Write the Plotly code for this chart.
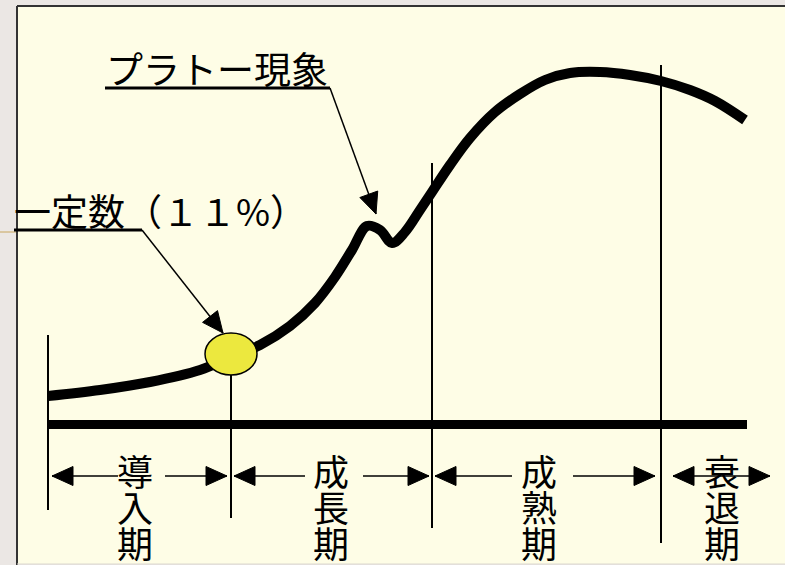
import plotly.graph_objects as go

W, H = 785, 565
FONT = "Noto Sans CJK JP"

# ---- data (diagram units; y grows downward) ----
curve_x = [48, 100, 150, 200, 231, 260, 290, 315, 335, 352, 367, 380, 392, 405, 420, 432,
           450, 470, 495, 520, 545, 570, 600, 630, 661, 690, 715, 745]
curve_y = [396, 390, 382, 370, 357, 345, 326, 303, 277, 250, 226, 230, 243, 232, 210, 192,
           165, 138, 112, 94, 80, 73, 72, 75, 81, 90, 101, 120]

boundary_x = [48, 231, 432, 661]
boundary_top = [335, 375, 163, 65]
boundary_bottom = [510, 518, 528, 543]

baseline_x = [48, 747]
baseline_y = 424.5

period_names = ["導入期", "成長期", "成熟期", "衰退期"]
period_center_x = [135, 331, 539, 722]
period_char_y = [470, 506, 542]
arrow_y = 476
arrow_left_tip = [52, 234, 435, 673]
arrow_right_tip = [227, 429, 655, 770]
arrow_gap = [(118, 165), (305, 363), (512, 573), None]

marker_center = (231, 354)
marker_radius = (26, 21)

plateau_label = "プラトー現象"
plateau_text_pos = (104, 68)
plateau_underline = (105, 330, 88)
plateau_tip = (376, 214)

threshold_label = "一定数（１１%）"
threshold_text_pos = (12, 210)
threshold_underline = (14, 142, 230)
threshold_tip = (223, 333)

HEAD_LEN, HEAD_HALF = 21, 9.5

fig = go.Figure()

fig.add_trace(go.Scatter(
    x=curve_x, y=curve_y, mode="lines",
    line=dict(color="black", width=10, shape="spline", smoothing=1.0),
    hoverinfo="skip", showlegend=False))

shapes = []
# panel
shapes.append(dict(type="rect", xref="x", yref="y", x0=17, x1=800, y0=6, y1=564,
                   fillcolor="#fefde6", line=dict(width=0), layer="below"))
shapes.append(dict(type="line", xref="x", yref="y", x0=17, x1=800, y0=6, y1=6,
                   line=dict(color="#333333", width=2), layer="below"))
shapes.append(dict(type="line", xref="x", yref="y", x0=17, x1=17, y0=6, y1=566,
                   line=dict(color="#333333", width=2), layer="below"))
shapes.append(dict(type="line", xref="x", yref="y", x0=17, x1=800, y0=564, y1=564,
                   line=dict(color="#dcd8d0", width=1), layer="below"))
shapes.append(dict(type="line", xref="x", yref="y", x0=0, x1=16, y0=232, y1=232,
                   line=dict(color="#c8a65c", width=1), layer="below"))

# baseline
shapes.append(dict(type="line", xref="x", yref="y", x0=baseline_x[0], x1=baseline_x[1],
                   y0=baseline_y, y1=baseline_y, line=dict(color="black", width=9)))

# boundaries
for bx, bt, bb in zip(boundary_x, boundary_top, boundary_bottom):
    shapes.append(dict(type="line", xref="x", yref="y", x0=bx, x1=bx, y0=bt, y1=bb,
                       line=dict(color="black", width=2)))


def head(tip, frm):
    tx, ty = tip
    fx, fy = frm
    dx, dy = tx - fx, ty - fy
    n = (dx * dx + dy * dy) ** 0.5
    ux, uy = dx / n, dy / n
    bx, by = tx - ux * HEAD_LEN, ty - uy * HEAD_LEN
    px, py = -uy * HEAD_HALF, ux * HEAD_HALF
    return dict(type="path", xref="x", yref="y",
                path=f"M{tx},{ty} L{bx + px},{by + py} L{bx - px},{by - py} Z",
                fillcolor="black", line=dict(color="black", width=1))


# period arrows
for lt, rt, gap in zip(arrow_left_tip, arrow_right_tip, arrow_gap):
    if gap is None:
        segs = [(lt, rt)]
    else:
        segs = [(lt, gap[0]), (gap[1], rt)]
    for a, b in segs:
        shapes.append(dict(type="line", xref="x", yref="y", x0=a, x1=b, y0=arrow_y, y1=arrow_y,
                           line=dict(color="black", width=1.5)))
    shapes.append(head((lt, arrow_y), (lt + 10, arrow_y)))
    shapes.append(head((rt, arrow_y), (rt - 10, arrow_y)))

# callouts
for (x0, x1, uy), tip in [(plateau_underline, plateau_tip), (threshold_underline, threshold_tip)]:
    shapes.append(dict(type="line", xref="x", yref="y", x0=x0, x1=x1, y0=uy, y1=uy,
                       line=dict(color="black", width=3)))
    shapes.append(dict(type="line", xref="x", yref="y", x0=x1, x1=tip[0], y0=uy, y1=tip[1],
                       line=dict(color="black", width=1.5)))
    shapes.append(head(tip, (x1, uy)))

# yellow marker
cx, cy = marker_center
rx, ry = marker_radius
shapes.append(dict(type="circle", xref="x", yref="y", x0=cx - rx, x1=cx + rx, y0=cy - ry, y1=cy + ry,
                   fillcolor="#ece83e", line=dict(color="black", width=1.5)))

annotations = []
for name, px in zip(period_names, period_center_x):
    for ch, py in zip(name, period_char_y):
        annotations.append(dict(x=px, y=py, xref="x", yref="y", text=ch, showarrow=False,
                                xanchor="center", yanchor="middle",
                                font=dict(family=FONT, size=36, color="black")))
annotations.append(dict(x=plateau_text_pos[0], y=plateau_text_pos[1], xref="x", yref="y",
                        text=plateau_label, showarrow=False, xanchor="left", yanchor="middle",
                        font=dict(family=FONT, size=37, color="black")))
annotations.append(dict(x=threshold_text_pos[0], y=threshold_text_pos[1], xref="x", yref="y",
                        text=threshold_label, showarrow=False, xanchor="left", yanchor="middle",
                        font=dict(family=FONT, size=37, color="black")))

fig.update_layout(
    width=W, height=H, autosize=False,
    margin=dict(l=0, r=0, t=0, b=0, pad=0),
    paper_bgcolor="#ebe7e4", plot_bgcolor="rgba(0,0,0,0)",
    xaxis=dict(range=[0, W], visible=False, fixedrange=True),
    yaxis=dict(range=[H, 0], visible=False, fixedrange=True),
    shapes=shapes, annotations=annotations, showlegend=False,
)

fig.write_html("out.html", config={"displayModeBar": False})
